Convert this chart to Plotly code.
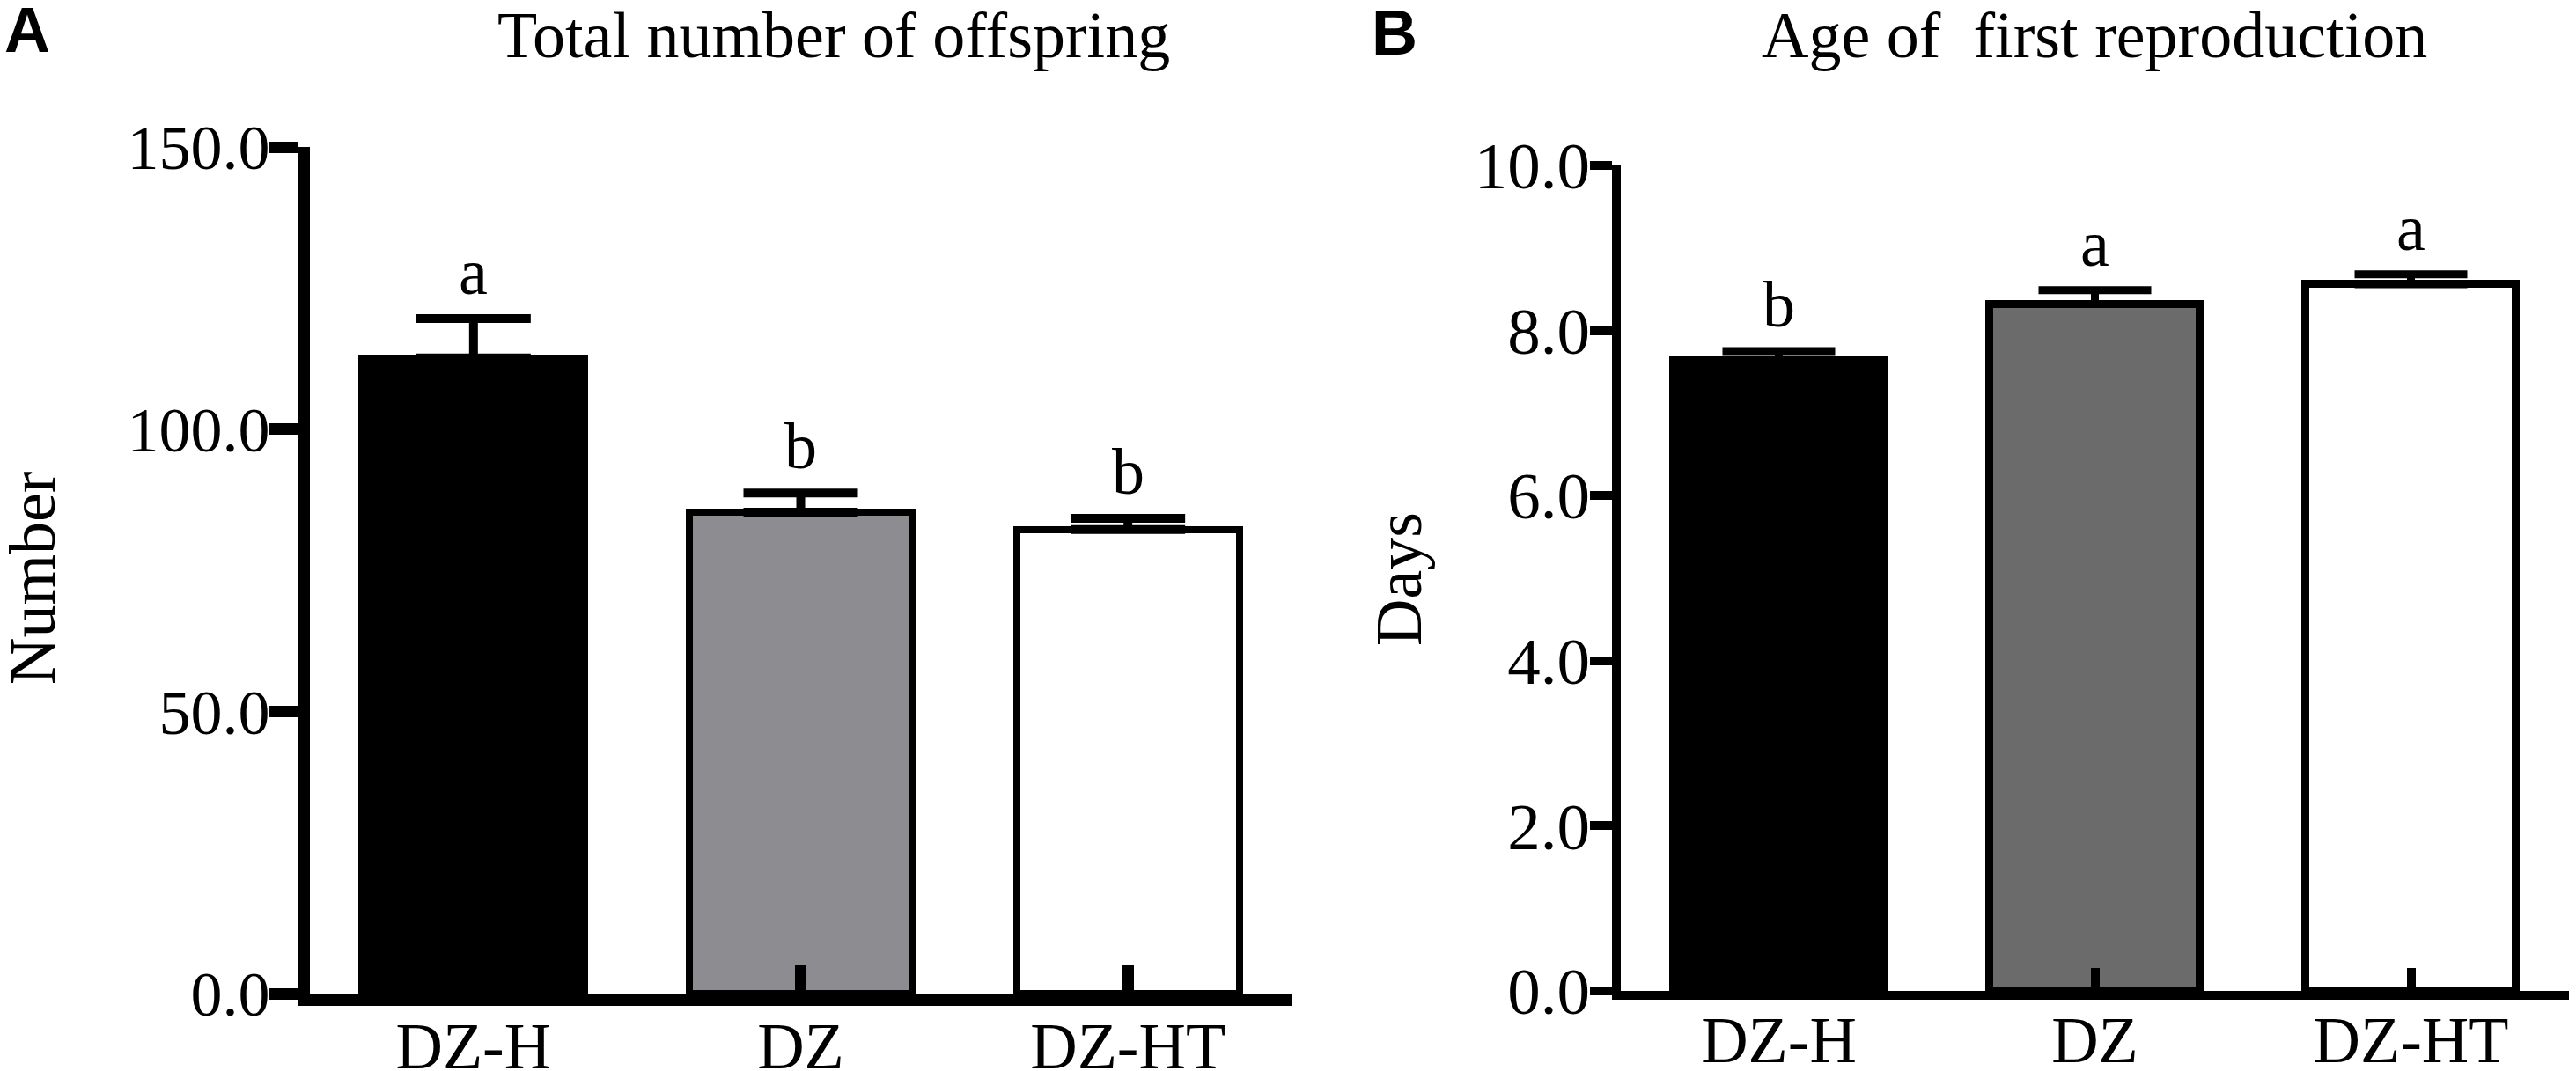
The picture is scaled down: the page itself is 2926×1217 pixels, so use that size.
import plotly.graph_objects as go

# data
# ------------------------
groups = ["DZ-H", "DZ", "DZ-HT"]

offspring_mean = [112.6, 85.3, 82.2]
offspring_sem = [7.0, 3.4, 2.0]
offspring_letters = ["a", "b", "b"]
offspring_colors = ["#000000", "#8d8c91", "#ffffff"]
offspring_ticks = [0, 50, 100, 150]

age_mean = [7.63, 8.32, 8.56]
age_sem = [0.12, 0.17, 0.12]
age_letters = ["b", "a", "a"]
age_colors = ["#000000", "#6b6b6b", "#ffffff"]
age_ticks = [0, 2, 4, 6, 8, 10]

# page geometry (body margin removed below, so figure == window)
# ---------------------------------------------------------------
W, H = 2926, 1217
serif = "Liberation Serif, Times New Roman, serif"
sans = "Liberation Sans, Arial, sans-serif"

def fx(px):
    return px / W

def fy(py):
    return 1 - py / H

fig = go.Figure()

# panel A
fig.add_trace(go.Bar(
    x=groups, y=offspring_mean, width=0.68,
    marker=dict(color=offspring_colors, line=dict(color="black", width=8)),
    error_y=dict(type="data", array=offspring_sem, arrayminus=[0] * 3,
                 symmetric=False, color="black", thickness=10, width=65),
    xaxis="x", yaxis="y", showlegend=False,
))

# panel B
fig.add_trace(go.Bar(
    x=groups, y=age_mean, width=0.666,
    marker=dict(color=age_colors, line=dict(color="black", width=9)),
    error_y=dict(type="data", array=age_sem, arrayminus=[0] * 3,
                 symmetric=False, color="black", thickness=9, width=64),
    xaxis="x2", yaxis="y2", showlegend=False,
))

xcommon = dict(type="category", range=[-0.5, 2.5], showgrid=False,
               zeroline=False, showline=True, linecolor="black",
               ticks="inside", tickcolor="black", automargin=False,
               ticklabelstandoff=-18,
               tickfont=dict(family=serif, size=74, color="black"))
ycommon = dict(showgrid=False, zeroline=False, showline=True,
               linecolor="black", ticks="outside", tickcolor="black",
               tickformat=".1f", automargin=False, ticklabelstandoff=-15)

fig.update_layout(
    width=W, height=H,
    margin=dict(l=0, r=0, t=0, b=0, pad=0, autoexpand=False),
    paper_bgcolor="white", plot_bgcolor="white",
    bargap=0,
    xaxis=dict(xcommon, domain=[fx(352), fx(1467)], anchor="y",
               linewidth=14, tickwidth=13, ticklen=32),
    yaxis=dict(ycommon, domain=[fy(1129), fy(167)], anchor="x",
               range=[0, 150], tickvals=offspring_ticks,
               linewidth=14, tickwidth=13, ticklen=32,
               tickfont=dict(family=serif, size=72, color="black")),
    xaxis2=dict(xcommon, domain=[fx(1841), fx(2918)], anchor="y2",
                linewidth=10, tickwidth=10, ticklen=26),
    yaxis2=dict(ycommon, domain=[fy(1126), fy(188)], anchor="x2",
                range=[0, 10], tickvals=age_ticks,
                linewidth=10, tickwidth=10, ticklen=25,
                tickfont=dict(family=serif, size=75, color="black")),
)

# significance letters
for i, g in enumerate(groups):
    fig.add_annotation(x=g, y=offspring_mean[i] + offspring_sem[i],
                       xref="x", yref="y", text=offspring_letters[i],
                       showarrow=False, yanchor="bottom", yshift=10,
                       font=dict(family=serif, size=74, color="black"))
    fig.add_annotation(x=g, y=age_mean[i] + age_sem[i],
                       xref="x2", yref="y2", text=age_letters[i],
                       showarrow=False, yanchor="bottom", yshift=10,
                       font=dict(family=serif, size=74, color="black"))

# titles, axis titles and panel letters
texts = [
    ("Total number of offspring", 947, 40, 0, serif),
    ("Age of  first reproduction", 2379, 40, 0, serif),
    ("Number", 37, 657, -90, serif),
    ("Days", 1589, 658, -90, serif),
]
for t, px, py, ang, fam in texts:
    fig.add_annotation(x=fx(px), y=fy(py), xref="paper", yref="paper",
                       text=t.replace("  ", " &nbsp;"), showarrow=False,
                       textangle=ang, xanchor="center", yanchor="middle",
                       font=dict(family=fam, size=74, color="black"))

for t, px, py in [("A", 31, 34), ("B", 1584, 37)]:
    fig.add_annotation(x=fx(px), y=fy(py), xref="paper", yref="paper",
                       text="<b>%s</b>" % t, showarrow=False,
                       xanchor="center", yanchor="middle",
                       font=dict(family=sans, size=72, color="black"))

fig.write_html(
    "out.html",
    config={"displayModeBar": False},
    post_script="document.body.style.margin='0';"
                "document.body.style.overflow='hidden';",
)
